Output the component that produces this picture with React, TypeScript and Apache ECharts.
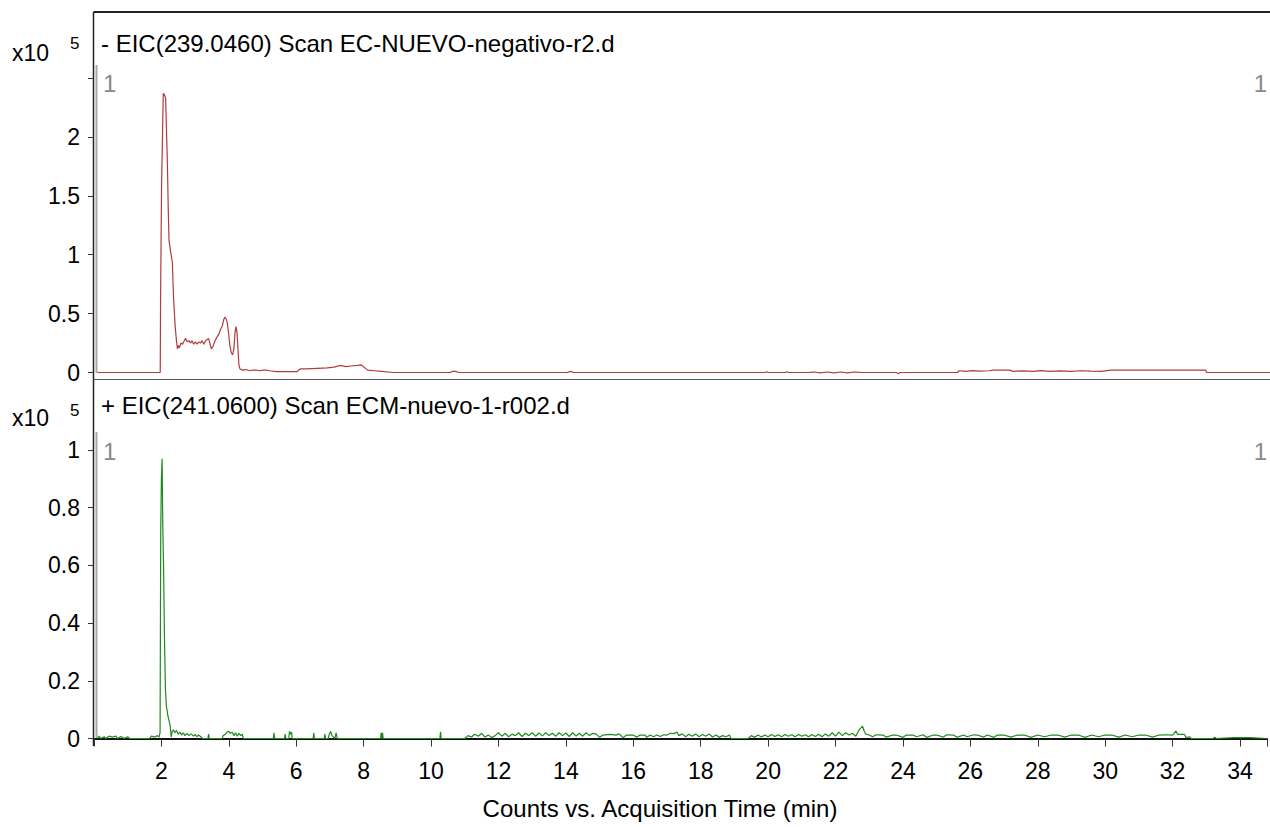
import React, { useEffect, useRef } from "react";
import * as echarts from "echarts";

// Acquisition time (min) and counts (x10^5) — negative mode EIC(239.0460)
const topTime = [
  0.1, 1.96, 1.97, 2.0, 2.05, 2.08, 2.12, 2.15, 2.17, 2.2, 2.22, 2.27, 2.32, 2.34, 2.36, 2.4, 2.44, 2.47, 2.5, 2.53,
  2.57, 2.62, 2.67, 2.71, 2.76, 2.81, 2.86, 2.9, 2.95, 3.0, 3.05, 3.1, 3.15, 3.2, 3.25, 3.3, 3.35, 3.39, 3.43, 3.47,
  3.52, 3.58, 3.64, 3.7, 3.75, 3.8, 3.84, 3.87, 3.9, 3.94, 3.98, 4.02, 4.06, 4.1, 4.14, 4.17, 4.2, 4.23, 4.26, 4.29,
  4.32, 4.4, 4.5, 4.6, 4.7, 4.8, 4.9, 5.0, 5.1, 5.2, 5.4, 6.0, 6.1, 6.3, 6.6, 6.9, 7.1, 7.3, 7.45, 7.6,
  7.8, 7.9, 8.1, 8.3, 8.5, 8.85, 10.55, 10.6, 10.7, 10.8, 14.0, 14.1, 14.2, 19.85, 19.9, 19.95, 20.45, 20.5, 20.55, 21.1,
  21.3, 21.5, 21.7, 21.9, 22.1, 22.3, 22.5, 22.8, 23.75, 23.8, 23.85, 25.55, 25.6, 25.8, 26.0, 26.2, 26.5, 26.6, 27.1, 27.2,
  27.5, 27.8, 28.0, 28.3, 28.6, 28.9, 29.2, 29.5, 29.8, 30.1, 32.9, 32.92, 34.8,
];
const topCounts = [
  0, 0, 0.62, 1.6, 2.37, 2.36, 2.33, 2.0, 1.8, 1.35, 1.12, 1.02, 0.93, 0.75, 0.6, 0.4, 0.27, 0.2, 0.23, 0.21,
  0.25, 0.24, 0.27, 0.29, 0.26, 0.27, 0.25, 0.27, 0.24, 0.26, 0.24, 0.26, 0.25, 0.27, 0.24, 0.27, 0.28, 0.29, 0.25, 0.2,
  0.22, 0.27, 0.3, 0.33, 0.37, 0.4, 0.45, 0.47, 0.46, 0.43, 0.34, 0.23, 0.17, 0.15, 0.2, 0.33, 0.39, 0.35, 0.2, 0.06,
  0.03, 0.02, 0.025, 0.015, 0.02, 0.02, 0.015, 0.02, 0.02, 0.015, 0.007, 0.007, 0.03, 0.03, 0.035, 0.04, 0.045, 0.06, 0.05, 0.055,
  0.06, 0.065, 0.02, 0.015, 0.01, 0, 0, 0.01, 0.01, 0, 0, 0.01, 0, 0, 0.006, 0, 0, 0.006, 0, 0,
  0.004, -0.003, 0.004, -0.003, 0.004, -0.003, 0.004, 0, 0, -0.01, 0, 0, 0.015, 0.01, 0.016, 0.012, 0.015, 0.02, 0.02, 0.01,
  0.014, 0.01, 0.016, 0.01, 0.014, 0.01, 0.015, 0.012, 0.01, 0.02, 0.02, 0, 0,
];

// Positive mode EIC(241.0600)
const bottomTime = [
  0.1, 0.15, 0.2, 0.3, 0.35, 0.45, 0.55, 0.65, 0.7, 0.8, 0.9, 1.0, 1.05, 1.65, 1.7, 1.8, 1.88, 1.93, 1.96, 1.98,
  2.0, 2.02, 2.04, 2.07, 2.09, 2.12, 2.15, 2.19, 2.23, 2.26, 2.29, 2.32, 2.36, 2.4, 2.45, 2.5, 2.55, 2.6, 2.65, 2.7,
  2.76, 2.82, 2.88, 2.95, 3.0, 3.05, 3.1, 3.18, 3.22, 3.38, 3.4, 3.42, 3.8, 3.83, 3.9, 3.95, 4.0, 4.05, 4.1, 4.15,
  4.2, 4.25, 4.3, 4.35, 4.4, 4.43, 5.32, 5.34, 5.36, 5.65, 5.67, 5.69, 5.78, 5.8, 5.83, 5.86, 5.88, 6.5, 6.52, 6.54,
  6.83, 6.85, 6.87, 6.95, 6.98, 7.02, 7.06, 7.15, 7.18, 7.22, 8.5, 8.52, 8.54, 8.56, 8.58, 10.26, 10.28, 10.3, 11.0, 11.1,
  11.2, 11.3, 11.4, 11.5, 11.6, 11.7, 11.8, 11.9, 12.0, 12.1, 12.2, 12.3, 12.4, 12.5, 12.6, 12.7, 12.8, 12.9, 13.0, 13.1,
  13.2, 13.3, 13.4, 13.5, 13.6, 13.7, 13.8, 13.9, 14.0, 14.1, 14.2, 14.3, 14.4, 14.5, 14.6, 14.7, 14.8, 14.9, 15.0, 15.1,
  15.3, 15.5, 15.55, 15.6, 15.7, 15.8, 16.0, 16.1, 16.2, 16.35, 16.4, 16.5, 16.6, 16.7, 16.8, 16.9, 17.0, 17.1, 17.2, 17.3,
  17.35, 17.45, 17.55, 17.65, 17.75, 17.85, 17.95, 18.05, 18.15, 18.25, 18.35, 18.45, 18.55, 18.65, 18.75, 18.85, 18.9, 19.4, 19.5, 19.6,
  19.7, 19.8, 19.9, 20.0, 20.1, 20.2, 20.3, 20.4, 20.5, 20.6, 20.7, 20.8, 20.9, 21.0, 21.1, 21.2, 21.3, 21.4, 21.5, 21.6,
  21.7, 21.8, 21.9, 22.0, 22.1, 22.2, 22.3, 22.4, 22.5, 22.6, 22.7, 22.8, 22.85, 22.9, 23.0, 23.1, 23.2, 23.4, 23.5, 23.7,
  23.8, 24.0, 24.1, 24.3, 24.4, 24.6, 24.7, 24.9, 25.0, 25.2, 25.3, 25.5, 25.6, 25.8, 25.9, 26.1, 26.2, 26.4, 26.5, 26.7,
  26.8, 27.0, 27.2, 27.4, 27.6, 27.8, 28.0, 28.2, 28.4, 28.6, 28.8, 29.0, 29.2, 29.4, 29.6, 29.8, 30.0, 30.2, 30.4, 30.6,
  30.8, 31.0, 31.2, 31.4, 31.6, 31.8, 32.0, 32.1, 32.15, 32.35, 32.4, 32.5, 32.55, 33.2, 33.25, 33.3, 33.8, 34.0, 34.3, 34.8,
];
const bottomCounts = [
  0, 0.008, 0, 0.006, 0, 0.008, 0.005, 0.008, 0, 0.007, 0, 0.006, 0, 0, 0.008, 0.005, 0.01, 0.005, 0.02, 0.72,
  0.9, 0.97, 0.75, 0.55, 0.35, 0.17, 0.11, 0.08, 0.06, 0.045, 0.005, 0.025, 0.03, 0.02, 0.028, 0.015, 0.022, 0.012, 0.02, 0.01,
  0.018, 0.01, 0.016, 0.008, 0.014, 0.006, 0.012, 0.005, 0, 0, 0.015, 0, 0, 0.01, 0.015, 0.022, 0.025, 0.018, 0.022, 0.01,
  0.02, 0.008, 0.018, 0.01, 0.015, 0, 0, 0.02, 0, 0, 0.015, 0, 0, 0.025, 0.015, 0.022, 0, 0, 0.02, 0,
  0, 0.015, 0, 0, 0.015, 0.025, 0.01, 0, 0.02, 0, 0, 0.02, 0, 0.02, 0, 0, 0.023, 0, 0, 0.01,
  0.005, 0.015, 0.008, 0.018, 0.005, 0.012, 0.003, 0.01, 0.02, 0.008, 0.018, 0.006, 0.015, 0.01, 0.02, 0.007, 0.018, 0.01, 0.02, 0.008,
  0.019, 0.009, 0.02, 0.01, 0.018, 0.008, 0.02, 0.01, 0.019, 0.007, 0.02, 0.009, 0.018, 0.008, 0.02, 0.01, 0.018, 0.015, 0.004, 0.012,
  0.014, 0.012, 0.016, 0.014, 0.003, 0.012, 0.012, 0.004, 0.012, 0.012, 0.004, 0.012, 0.006, 0.012, 0.007, 0.013, 0.012, 0.018, 0.017, 0.022,
  0.01, 0.016, 0.006, 0.015, 0.008, 0.016, 0.006, 0.014, 0.008, 0.016, 0.005, 0.012, 0.004, 0.01, 0.006, 0.012, 0, 0, 0.01, 0.004,
  0.012, 0.005, 0.012, 0.006, 0.014, 0.007, 0.013, 0.006, 0.014, 0.008, 0.013, 0.006, 0.014, 0.008, 0.013, 0.006, 0.014, 0.007, 0.015, 0.006,
  0.016, 0.008, 0.02, 0.008, 0.022, 0.01, 0.02, 0.012, 0.018, 0.008, 0.03, 0.043, 0.025, 0.015, 0.012, 0.006, 0.013, 0.012, 0.005, 0.012,
  0.012, 0.004, 0.012, 0.012, 0.006, 0.013, 0.004, 0.012, 0.012, 0.005, 0.013, 0.012, 0.004, 0.012, 0.006, 0.013, 0.012, 0.005, 0.012, 0.004,
  0.012, 0.012, 0.005, 0.012, 0.012, 0.004, 0.012, 0.006, 0.012, 0.012, 0.005, 0.012, 0.012, 0.004, 0.012, 0.006, 0.012, 0.012, 0.005, 0.012,
  0.006, 0.012, 0.012, 0.005, 0.012, 0.013, 0.012, 0.026, 0.014, 0.014, 0.003, 0.006, 0, 0, 0.004, 0, 0.003, 0.003, 0.003, 0,
];

const topTicks = [0, 0.5, 1, 1.5, 2, 2.5];
const bottomTicks = [0, 0.2, 0.4, 0.6, 0.8, 1];
const timeTicks = [2, 4, 6, 8, 10, 12, 14, 16, 18, 20, 22, 24, 26, 28, 30, 32, 34];

const topTitle = "- EIC(239.0460) Scan EC-NUEVO-negativo-r2.d";
const bottomTitle = "+ EIC(241.0600) Scan ECM-nuevo-1-r002.d";
const xTitle = "Counts vs. Acquisition Time (min)";

const FONT = "'Liberation Sans', Arial, Helvetica, sans-serif";

export default function App() {
  const ref = useRef<HTMLDivElement>(null);
  useEffect(() => {
    if (!ref.current) return;
    const chart = echarts.init(ref.current, undefined, { renderer: "svg" });
    const topData = topTime.map((t, i) => [t, topCounts[i]]);
    const bottomData = bottomTime.map((t, i) => [t, bottomCounts[i]]);
    const fmt = (list: number[]) => (v: number) => {
      const hit = list.find((x) => Math.abs(x - v) < 1e-6);
      return hit === undefined ? "" : String(hit);
    };
    const txt = (x: number, y: number, text: string, size: number, extra: any = {}) => ({
      type: "text",
      x,
      y,
      silent: true,
      style: { text, fontSize: size, fontFamily: FONT, fill: "#000", verticalAlign: "middle", ...extra },
    });
    const ln = (x1: number, y1: number, x2: number, y2: number, stroke: string, w: number) => ({
      type: "line",
      silent: true,
      shape: { x1, y1, x2, y2 },
      style: { stroke, lineWidth: w },
    });
    const tickLabel = { fontSize: 23, fontFamily: FONT, color: "#000" };
    chart.setOption({
      animation: false,
      backgroundColor: "#fff",
      grid: [
        { left: 94, width: 1176, top: 78.1, height: 294.4 },
        { left: 94, width: 1176, top: 450, height: 288.5 },
      ],
      xAxis: [
        { type: "value", gridIndex: 0, min: 0, max: 34.8, interval: 2, show: false },
        {
          type: "value",
          gridIndex: 1,
          min: 0,
          max: 34.8,
          interval: 2,
          offset: 7,
          axisLine: { show: true, lineStyle: { color: "#111", width: 2 } },
          axisTick: { show: true, length: 8, lineStyle: { color: "#333", width: 1 } },
          axisLabel: { ...tickLabel, margin: 14, formatter: fmt(timeTicks) },
          splitLine: { show: false },
        },
      ],
      yAxis: [
        {
          type: "value",
          gridIndex: 0,
          min: 0,
          max: 2.5,
          interval: 0.5,
          axisLine: { show: false },
          axisTick: { show: true, length: 6, lineStyle: { color: "#333" } },
          axisLabel: { ...tickLabel, margin: 14, formatter: fmt(topTicks.filter((v) => v < 2.5)) },
          splitLine: { show: false },
        },
        {
          type: "value",
          gridIndex: 1,
          min: 0,
          max: 1,
          interval: 0.2,
          axisLine: { show: false },
          axisTick: { show: true, length: 6, lineStyle: { color: "#333" } },
          axisLabel: { ...tickLabel, margin: 14, formatter: fmt(bottomTicks) },
          splitLine: { show: false },
        },
      ],
      series: [
        {
          type: "line",
          xAxisIndex: 0,
          yAxisIndex: 0,
          data: topData,
          showSymbol: false,
          lineStyle: { color: "#b23b3b", width: 1.2 },
          clip: false,
        },
        {
          type: "line",
          xAxisIndex: 1,
          yAxisIndex: 1,
          data: bottomData,
          showSymbol: false,
          lineStyle: { color: "#1f8a1f", width: 1.2 },
          clip: false,
        },
      ],
      graphic: [
        ln(93.5, 12, 1270, 12, "#222", 2),
        ln(93.5, 12, 93.5, 746, "#222", 1.5),
        ln(93.5, 379.5, 1270, 379.5, "#555", 1),
        ln(96.5, 65, 96.5, 373, "#a8a8a8", 2),
        ln(96.5, 432, 96.5, 739, "#a8a8a8", 2),
        txt(101, 43, topTitle, 24),
        txt(101, 405, bottomTitle, 24),
        txt(12, 53, "x10", 23),
        txt(70, 43, "5", 17),
        txt(12, 418, "x10", 23),
        txt(70, 410, "5", 17),
        txt(103, 83, "1", 24, { fill: "#8a8a8a" }),
        txt(1267, 83, "1", 24, { fill: "#8a8a8a", align: "right" }),
        txt(103, 451, "1", 24, { fill: "#8a8a8a" }),
        txt(1267, 451, "1", 24, { fill: "#8a8a8a", align: "right" }),
        txt(660, 808, xTitle, 24, { align: "center" }),
      ],
    });
    return () => chart.dispose();
  }, []);
  return (
    <div
      ref={ref}
      style={{ position: "fixed", left: 0, top: 0, width: 1270, height: 827, background: "#fff" }}
    />
  );
}
